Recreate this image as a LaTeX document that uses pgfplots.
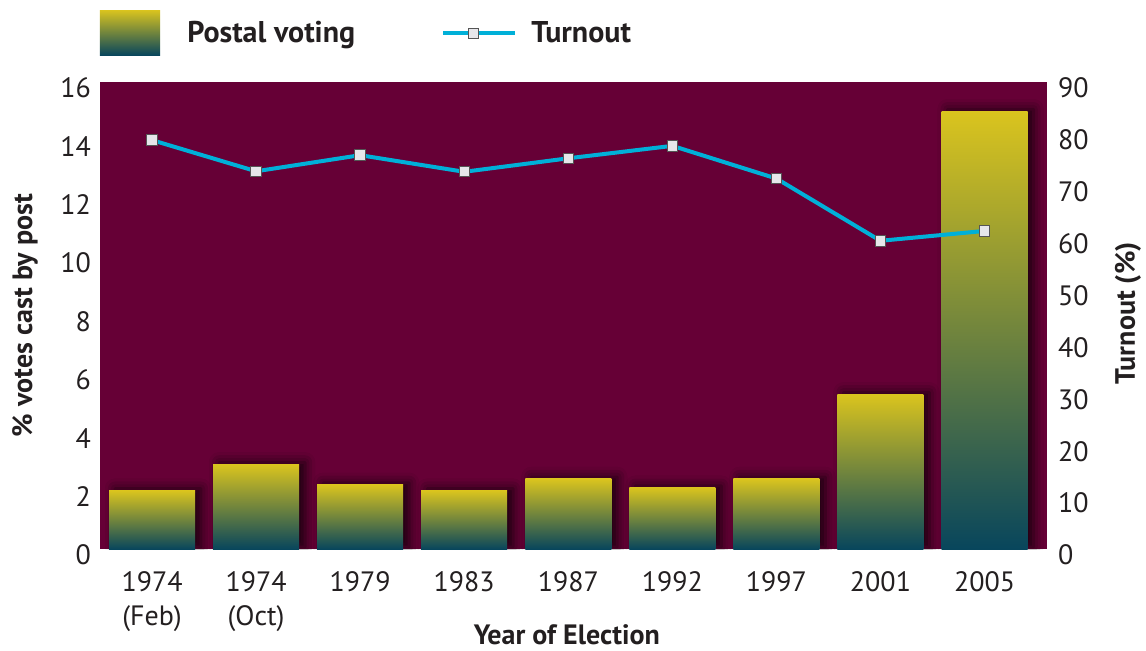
\documentclass[border=0pt]{standalone}
\usepackage{fontspec}
\setmainfont{PT Sans}
\usepackage{pgfplots}
\pgfplotsset{compat=1.18}
\usetikzlibrary{shadows.blur}

\definecolor{bgmaroon}{RGB}{102,0,54}
\definecolor{baryellow}{RGB}{218,196,30}
\definecolor{barteal}{RGB}{8,70,92}
\definecolor{linecyan}{RGB}{0,176,216}
\definecolor{markfill}{RGB}{230,230,234}
\definecolor{markdraw}{RGB}{85,85,85}
\definecolor{txt}{RGB}{35,31,32}

\tikzset{pbar/.style={ybar, bar width=43pt, draw=none, top color=baryellow, bottom color=barteal,
    blur shadow={shadow xshift=3pt, shadow yshift=1pt, shadow blur radius=5pt, shadow opacity=75}}}

\begin{document}
\begin{tikzpicture}[font=\fontsize{14}{16}\selectfont, text=txt]

% postal votes, left axis (one plot per bar so each gets its own gradient)
\begin{axis}[
    at={(0,0)}, anchor=south west,
    scale only axis, width=473.5pt, height=233.5pt,
    xmin=-0.5, xmax=8.6, ymin=0, ymax=16,
    axis background/.style={fill=bgmaroon},
    axis line style={draw=none},
    major tick length=0pt,
    xtick={0,...,8},
    xticklabels={{1974\\(Feb)},{1974\\(Oct)},1979,1983,1987,1992,1997,2001,2005},
    x tick label style={align=center, yshift=-7.5pt, font=\fontsize{14}{17}\selectfont},
    ytick={0,2,...,16},
    y tick label style={xshift=-1pt, yshift=-3pt},
    /pgf/number format/assume math mode=true,
    xlabel={\textbf{Year of Election}},
    xlabel style={at={(rel axis cs:0.493,0)}, anchor=center, yshift=-43pt},
    ylabel={\textbf{\% votes cast by post}},
    ylabel style={at={(rel axis cs:0,0.5)}, anchor=center, yshift=37.5pt},
]
\addplot[pbar] coordinates {(0,2.0)};
\addplot[pbar] coordinates {(1,2.9)};
\addplot[pbar] coordinates {(2,2.2)};
\addplot[pbar] coordinates {(3,2.0)};
\addplot[pbar] coordinates {(4,2.4)};
\addplot[pbar] coordinates {(5,2.1)};
\addplot[pbar] coordinates {(6,2.4)};
\addplot[pbar] coordinates {(7,5.3)};
\addplot[pbar] coordinates {(8,15.0)};
\end{axis}

% turnout, right axis
\begin{axis}[
    at={(0,0)}, anchor=south west,
    scale only axis, width=473.5pt, height=233.5pt,
    xmin=-0.5, xmax=8.6, ymin=0, ymax=90,
    axis x line=none, axis y line*=right,
    axis line style={draw=none},
    major tick length=0pt,
    ytick={0,10,...,90},
    y tick label style={xshift=2pt, yshift=-3pt},
    /pgf/number format/assume math mode=true,
    ylabel={\textbf{Turnout (\%)}},
    ylabel style={at={(rel axis cs:1,0.505)}, anchor=center, yshift=-40.5pt},
]
\addplot[linecyan, line width=2pt, mark=square*, mark size=2.6pt,
    mark options={fill=markfill, draw=markdraw, line width=0.5pt}]
coordinates {(0,78.8) (1,72.8) (2,75.9) (3,72.7) (4,75.3) (5,77.7) (6,71.4) (7,59.4) (8,61.3)};
\end{axis}

% legend
\shade[top color=baryellow, bottom color=barteal] (0,247pt) rectangle (30pt,269.5pt);
\node[anchor=base west, inner sep=0pt, font=\fontsize{15}{17}\selectfont] at (43.5pt,253.5pt) {\textbf{Postal voting}};
\draw[linecyan, line width=2pt] (171.5pt,258pt) -- (207.5pt,258pt);
\filldraw[fill=markfill, draw=markdraw, line width=0.5pt] (184pt,255.5pt) rectangle (189pt,260.5pt);
\node[anchor=base west, inner sep=0pt, font=\fontsize{15}{17}\selectfont] at (215.5pt,253.5pt) {\textbf{Turnout}};

\pgfresetboundingbox
\useasboundingbox (-50pt,-50.5pt) rectangle (523pt,274.5pt);
\end{tikzpicture}
\end{document}
